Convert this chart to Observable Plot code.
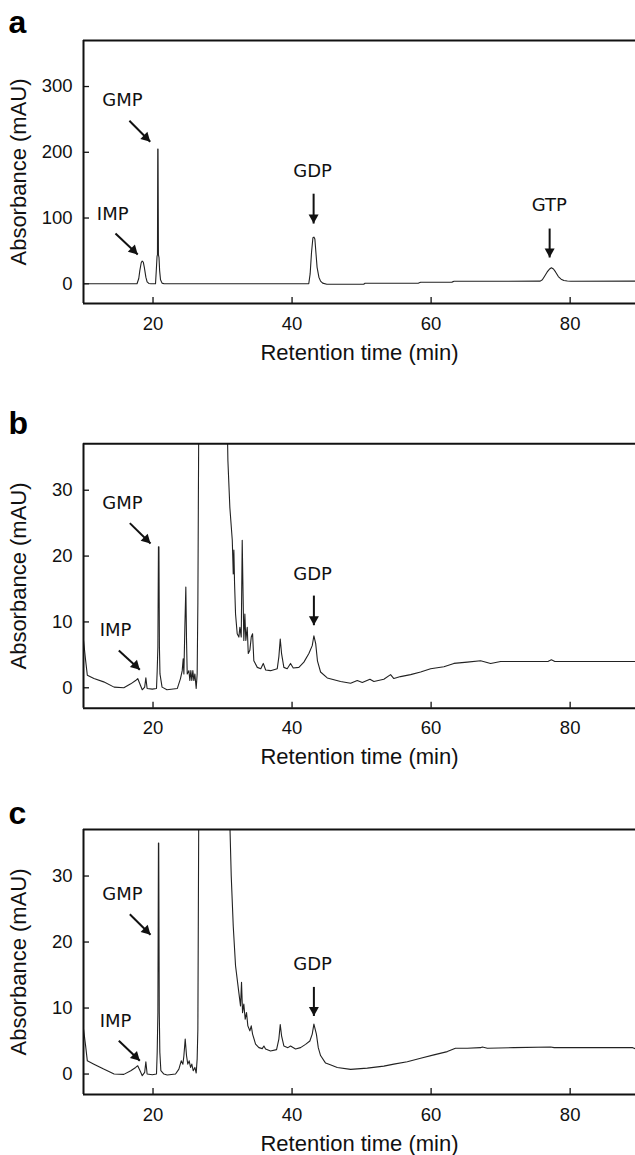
<!DOCTYPE html>
<html><head><meta charset="utf-8">
<script src="https://cdn.jsdelivr.net/npm/d3@7"></script>
<script src="https://cdn.jsdelivr.net/npm/@observablehq/plot@0.6"></script>
<style>
html,body{margin:0;padding:0;background:#fff;overflow:hidden;}
#wrap{position:relative;width:635px;height:1155px;}
.panel{position:absolute;left:0;width:635px;}
</style></head><body><div id="wrap"></div>
<script>
// ---------- data ----------
const xTicks = [20, 40, 60, 80];
const yTicksA = [0, 100, 200, 300];
const yTicksBC = [0, 10, 20, 30];
const panelLetters = ["a", "b", "c"];
const xTitle = "Retention time (min)";
const yTitle = "Absorbance (mAU)";

// panel a: standard mix
const timeA = [10, 17.7, 17.95, 18.1, 18.3, 18.44, 18.6, 18.75, 18.97, 19.15, 19.4, 19.7, 20.36, 20.48, 20.58, 20.64, 20.68, 20.72, 20.78, 20.86, 20.95, 21.08, 21.3, 21.6,
  42.4, 42.6, 42.8, 43.0, 43.14, 43.28, 43.45, 43.6, 43.86, 44.1, 44.4, 45.0, 50.3, 50.5, 58.2, 58.5, 63.0, 63.3, 75.7, 76.0, 76.3, 76.7, 77.0, 77.3, 77.6, 77.9, 78.3, 78.7, 79.1, 79.6, 80.1, 89.4];
const absA = [0, 0, 8, 20, 32, 34.5, 33, 25, 10, 3, 0.5, 0, 0, 22, 42, 44, 205, 205, 44, 40, 20, 6, 1, 0,
  0, 15, 48, 70, 71, 68, 45, 25, 10, 4, 1, -0.8, -0.8, 0.8, 1, 2.4, 2.5, 3.8, 4, 6, 11, 18, 22, 24.3, 22.5, 18, 11, 7, 5, 4.2, 3.8, 4];

// panel b
const timeB = [10.0, 10.3, 10.55, 11.5, 12.9, 14.4, 15.8, 16.8, 17.5, 17.8, 18.2, 18.45, 18.8, 18.97, 19.15, 19.9, 20.5, 20.6, 20.7, 20.78, 20.85, 20.92, 21.0, 21.3, 22.0, 23.5,
  23.95, 24.2, 24.34, 24.44, 24.58, 24.72, 24.82, 24.92, 25.16, 25.3, 25.44, 25.58, 25.73, 25.87, 26.02, 26.21, 26.35, 26.45, 26.6, 30.6,
  30.77, 31.05, 31.4, 31.54, 31.63, 31.73, 31.87, 32.11, 32.35, 32.49, 32.69, 32.83, 32.92, 33.06, 33.21, 33.35, 33.55, 33.7, 33.93, 34.13, 34.32, 34.5, 35.0, 35.5, 35.86, 36.2, 36.9,
  37.87, 38.1, 38.3, 38.49, 38.82, 39.3, 39.78, 40.17, 40.98, 41.7, 42.42, 42.9, 43.14, 43.4, 43.65, 44.1, 45.06, 46.98, 48.42, 49.38, 50.1, 51.2, 51.77, 53.2, 54.17, 54.64,
  55.6, 57.05, 58.49, 59.93, 61.84, 63.28, 65.2, 67.12, 68.56, 70, 76.8, 77.3, 77.8, 89.4];
const absB = [7.2, 4.2, 1.9, 1.4, 0.9, 0.1, 0, 0.6, 1.1, 1.4, 0.35, -0.3, 0.1, 1.5, -0.1, -0.2, -0.1, 2.6, 6.2, 21.4, 21.4, 6.2, 2.1, 0.1, -0.3, -0.1,
  1.4, 2.6, 4.4, 2.1, 9.2, 15.3, 7.2, 2.1, 2.6, 1.1, 2.6, 1.1, 2.6, 1.1, 2.1, -0.1, 2.1, 12.8, 45, 45,
  34.5, 27.4, 22.4, 17.3, 20.9, 15.8, 11.2, 8.2, 7.7, 9.2, 7.7, 22.4, 16.3, 7.2, 11.2, 7.2, 9.2, 5.2, 5.7, 7.7, 8.2, 4.1, 3.1, 2.9, 3.7, 2.7, 2.6,
  2.9, 4.7, 7.4, 5.2, 3.1, 2.9, 3.7, 3.0, 3.1, 3.9, 5.2, 6.4, 7.9, 6.7, 4.1, 2.4, 1.5, 0.96, 0.7, 1.1, 0.8, 1.3, 0.96, 1.3, 2.0, 1.4,
  1.7, 2.0, 2.4, 2.9, 3.2, 3.7, 3.9, 4.1, 3.7, 4.0, 4.0, 4.25, 4.0, 4.0];

// panel c
const timeC = [10.0, 10.3, 10.55, 11.5, 12.9, 14.4, 15.8, 16.8, 17.5, 17.8, 18.2, 18.45, 18.8, 18.97, 19.15, 19.9, 20.5, 20.6, 20.7, 20.78, 20.82, 20.9, 20.98, 21.13, 21.56, 22.04,
  23.24, 23.72, 24.06, 24.3, 24.44, 24.63, 24.82, 25.0, 25.2, 25.4, 25.58, 25.78, 26.02, 26.21, 26.35, 26.45, 26.6, 30.9,
  31.0, 31.25, 31.54, 31.87, 32.35, 32.59, 32.73, 32.88, 33.06, 33.26, 33.45, 33.64, 33.93, 34.13, 34.32, 34.75, 35.23, 35.71, 35.95, 36.19, 36.9, 37.77,
  38.1, 38.3, 38.49, 38.82, 39.4, 39.78, 40.5, 41.22, 41.94, 42.56, 42.9, 43.14, 43.5, 43.77, 44.1, 44.82, 45.5, 46.5, 48.42, 50.82, 53.2, 54.64,
  56.57, 58.49, 60.4, 62.33, 63.5, 65.2, 67.12, 67.36, 68.1, 71.9, 77.2, 77.7, 89.0, 89.4];
const absC = [6.8, 4.3, 2.0, 1.5, 0.75, 0, -0.05, 0.5, 1.0, 1.26, 0.35, -0.25, 0.25, 1.86, 0, -0.1, 0, 3.3, 9.3, 35, 35, 9.3, 3.3, 0.5, 0, -0.15,
  0, 0.75, 2.0, 1.5, 2.77, 5.3, 2.77, 1.5, 2.0, 1.0, 1.5, 0.5, 1.0, 0.15, 2.3, 6.8, 45, 45,
  40, 30, 22.4, 16.4, 12.3, 10.3, 13.9, 9.3, 10.6, 8.3, 9.3, 7.3, 6.55, 7.3, 6.05, 4.54, 4.0, 3.85, 4.25, 3.8, 3.5, 3.7,
  5.3, 7.5, 5.8, 4.25, 4.0, 4.25, 3.8, 4.0, 4.5, 5.0, 6.05, 7.56, 6.05, 4.0, 2.8, 1.66, 1.4, 1.0, 0.7, 0.9, 1.2, 1.5,
  1.86, 2.4, 2.9, 3.4, 3.9, 3.9, 4.0, 4.1, 3.9, 4.0, 4.1, 4.0, 4.0, 3.8];

// peak annotations (data units)
const labelsA = [
  {name: "GMP", x: 15.6, y: 278.6}, {name: "IMP", x: 14.2, y: 106.5},
  {name: "GDP", x: 42.95, y: 170.7}, {name: "GTP", x: 77, y: 119}];
const arrowsA = [
  {x1: 16.6, y1: 248, x2: 19.6, y2: 216, dir: 135}, {x1: 14.6, y1: 76.4, x2: 17.8, y2: 44.5, dir: 135},
  {x1: 43.1, y1: 137, x2: 43.1, y2: 91.6, dir: 180}, {x1: 77.05, y1: 84, x2: 77.05, y2: 40, dir: 180}];
const labelsB = [
  {name: "GMP", x: 15.6, y: 28.0}, {name: "IMP", x: 14.6, y: 8.7}, {name: "GDP", x: 42.95, y: 17.3}];
const arrowsB = [
  {x1: 16.66, y1: 25.0, x2: 19.64, y2: 21.9, dir: 135}, {x1: 15.08, y1: 5.67, x2: 18.1, y2: 2.74, dir: 135},
  {x1: 43.14, y1: 14.0, x2: 43.14, y2: 9.5, dir: 180}];
const labelsC = [
  {name: "GMP", x: 15.6, y: 27.2}, {name: "IMP", x: 14.6, y: 8.06}, {name: "GDP", x: 42.95, y: 16.6}];
const arrowsC = [
  {x1: 16.66, y1: 24.2, x2: 19.64, y2: 21.1, dir: 135}, {x1: 15.08, y1: 5.04, x2: 18.1, y2: 2.0, dir: 135},
  {x1: 43.14, y1: 13.2, x2: 43.14, y2: 8.8, dir: 180}];

// ---------- layout ----------
const xDomain = [10, 89.4];
const W = 635, ML = 83;
const panels = [
  {top: 0,   height: 390, mt: 40,   mb: 87,   yDomain: [-30, 370],    yTicks: yTicksA,  time: timeA, abs: absA, labels: labelsA, arrows: arrowsA, letter: panelLetters[0], letterDy: -8},
  {top: 390, height: 390, mt: 53.3, mb: 72.3, yDomain: [-3.1, 37.05], yTicks: yTicksBC, time: timeB, abs: absB, labels: labelsB, arrows: arrowsB, letter: panelLetters[1], letterDy: -10},
  {top: 780, height: 375, mt: 49,   mb: 61,   yDomain: [-3.1, 37.05], yTicks: yTicksBC, time: timeC, abs: absC, labels: labelsC, arrows: arrowsC, letter: panelLetters[2], letterDy: -6}
];

const arrowHead = {
  draw(ctx, size) {
    const r = Math.sqrt(size / Math.PI);
    ctx.moveTo(0, 0);
    ctx.lineTo(-r, 1.8 * r);
    ctx.lineTo(r, 1.8 * r);
    ctx.closePath();
  }
};

const ink = "#111";
const wrap = document.getElementById("wrap");

for (const p of panels) {
  const trace = p.time.map((t, i) => ({t, v: p.abs[i]}));
  const plotH = p.height - p.mt - p.mb;
  const plotW = W - ML;
  const svg = Plot.plot({
    width: W, height: p.height,
    marginLeft: ML, marginRight: 0, marginTop: p.mt, marginBottom: p.mb,
    x: {domain: xDomain},
    y: {domain: p.yDomain},
    style: {fontFamily: "'Liberation Sans', Arial, sans-serif", fontSize: "18.5px", color: ink, background: "white", overflow: "visible"},
    marks: [
      Plot.axisX({ticks: xTicks, tickSize: 0, tickPadding: 13, label: null, fill: ink}),
      Plot.axisY({ticks: p.yTicks, tickSize: 0, tickPadding: 11, label: null, fill: ink}),
      Plot.ruleX(xTicks, {x: d => d, insetTop: plotH - 6, stroke: ink, strokeWidth: 1.3}),
      Plot.ruleY(p.yTicks, {y: d => d, insetRight: plotW - 6, stroke: ink, strokeWidth: 1.3}),
      Plot.line(trace, {x: "t", y: "v", stroke: "#222", strokeWidth: 1.1, clip: true}),
      Plot.ruleY([p.yDomain[0], p.yDomain[1]], {stroke: ink, strokeWidth: 2}),
      Plot.ruleX([xDomain[0]], {stroke: ink, strokeWidth: 2}),
      Plot.link(p.arrows, {x1: "x1", y1: "y1", x2: "x2", y2: "y2", stroke: ink, strokeWidth: 2}),
      Plot.dot(p.arrows, {x: "x2", y: "y2", rotate: "dir", symbol: arrowHead, r: 5, fill: ink, stroke: null}),
      Plot.text(p.labels, {x: "x", y: "y", text: "name", fontFamily: "'DejaVu Sans', sans-serif", fontSize: 18, fill: ink}),
      Plot.text([yTitle], {frameAnchor: "left", textAnchor: "middle", lineAnchor: "middle", rotate: -90, dx: -65, fontSize: 22, fill: ink}),
      Plot.text([xTitle], {frameAnchor: "bottom", textAnchor: "middle", lineAnchor: "middle", dy: 49, fontSize: 22, fill: ink}),
      Plot.text([p.letter], {frameAnchor: "top-left", dx: -75, dy: p.letterDy, textAnchor: "start", lineAnchor: "bottom", fontSize: 32, fontWeight: "bold", fill: "#000"})
    ]
  });
  const div = document.createElement("div");
  div.className = "panel";
  div.style.top = p.top + "px";
  div.appendChild(svg);
  wrap.appendChild(div);
}
</script>
</body></html>
